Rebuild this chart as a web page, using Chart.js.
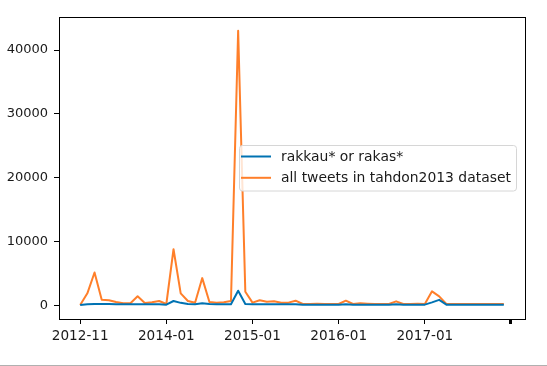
<!DOCTYPE html>
<html>
<head>
<meta charset="utf-8">
<script src="https://cdn.jsdelivr.net/npm/chart.js@4/dist/chart.umd.min.js"></script>
<style>
html,body{margin:0;padding:0;background:#fff;}
#wrap{position:relative;width:547px;height:366px;}
#line{position:absolute;left:0;top:365px;width:547px;height:1px;background:#b0b0b0;}
</style>
</head>
<body>
<div id="wrap"><canvas id="c" width="547" height="366"></canvas><div id="line"></div></div>
<script>
// ---- data ----
const seriesNames = ['rakkau* or rakas*', 'all tweets in tahdon2013 dataset'];
const tickLabels = ['2012-11', '2014-01', '2015-01', '2016-01', '2017-01', ''];
const rakkauValues = [
  50, 150, 200, 200, 180, 150, 150, 150, 150, 150, 150, 150,
  100, 670, 380, 200, 150, 300, 200, 150, 150, 150, 2280, 200,
  150, 150, 150, 150, 150, 150, 150, 100, 100, 100, 100, 100,
  100, 150, 100, 100, 100, 100, 100, 100, 150, 100, 100, 100,
  100, 450, 850, 100, 100, 100, 100, 100, 100, 100, 100, 100
];
const allValues = [
  50, 1870, 5140, 880, 780, 510, 310, 310, 1400, 360, 460, 670,
  200, 8780, 1870, 670, 410, 4260, 510, 410, 460, 670, 43030, 2120,
  410, 780, 560, 620, 410, 410, 720, 200, 200, 220, 200, 200,
  200, 720, 200, 300, 250, 200, 200, 200, 620, 200, 200, 250,
  200, 2180, 1400, 200, 200, 200, 200, 200, 200, 200, 200, 200
];
const yTicks = [0, 10000, 20000, 30000, 40000];
// ----------------

const colors = ['#0072b2', '#ff7f2a'];
const FONT = 'DejaVu Sans';
const TXT = '#1a1a1a';
const step = 12;

const toPts = arr => arr.map((v, i) => ({x: i, y: v}));
const n = allValues.length;
const xPad = (n - 1) * 0.05;
const yMaxData = Math.max(...allValues), yMinData = 0;
const yPad = (yMaxData - yMinData) * 0.05;

const framePlugin = {
  id: 'frame',
  afterDatasetsDraw(chart) {
    const {ctx, chartArea: a} = chart;
    ctx.save();
    ctx.strokeStyle = '#000';
    ctx.lineWidth = 1;
    ctx.strokeRect(Math.round(a.left) + 0.5, Math.round(a.top) + 0.5,
      Math.round(a.right - a.left), Math.round(a.bottom - a.top));
    // legend
    const bx = 239.5, by = 145.5, bw = 277, bh = 45.5, r = 3;
    ctx.beginPath();
    ctx.moveTo(bx + r, by);
    ctx.lineTo(bx + bw - r, by); ctx.arcTo(bx + bw, by, bx + bw, by + r, r);
    ctx.lineTo(bx + bw, by + bh - r); ctx.arcTo(bx + bw, by + bh, bx + bw - r, by + bh, r);
    ctx.lineTo(bx + r, by + bh); ctx.arcTo(bx, by + bh, bx, by + bh - r, r);
    ctx.lineTo(bx, by + r); ctx.arcTo(bx, by, bx + r, by, r);
    ctx.closePath();
    ctx.fillStyle = 'rgba(255,255,255,0.8)';
    ctx.fill();
    ctx.strokeStyle = '#d6d6d6';
    ctx.stroke();
    chart.data.datasets.forEach((ds, i) => {
      const ly = 156.5 + i * 21.3;
      ctx.strokeStyle = ds.borderColor;
      ctx.lineWidth = 2;
      ctx.beginPath(); ctx.moveTo(241, ly); ctx.lineTo(271, ly); ctx.stroke();
      ctx.fillStyle = TXT;
      ctx.font = '13.9px "' + FONT + '"';
      ctx.textBaseline = 'middle';
      ctx.textAlign = 'left';
      ctx.fillText(ds.label, 281, ly + 0.5);
    });
    ctx.restore();
  }
};

new Chart(document.getElementById('c'), {
  type: 'line',
  data: {
    datasets: [
      {label: seriesNames[0], data: toPts(rakkauValues), borderColor: colors[0], backgroundColor: colors[0]},
      {label: seriesNames[1], data: toPts(allValues), borderColor: colors[1], backgroundColor: colors[1]}
    ]
  },
  options: {
    responsive: false,
    animation: false,
    devicePixelRatio: 1,
    layout: {padding: {left: 0, right: 22, top: 17, bottom: 0}},
    elements: {
      line: {borderWidth: 2, tension: 0, borderJoinStyle: 'round', borderCapStyle: 'butt'},
      point: {radius: 0, hoverRadius: 0}
    },
    plugins: {legend: {display: false}, tooltip: {enabled: false}},
    scales: {
      x: {
        type: 'linear',
        min: -xPad, max: (n - 1) + xPad,
        afterBuildTicks: s => { s.ticks = tickLabels.map((t, i) => ({value: i * step})); },
        afterFit: s => { s.height = 47; },
        border: {display: false},
        grid: {
          drawOnChartArea: false, drawTicks: true, tickLength: 5, color: '#000',
          tickColor: '#000',
          tickWidth: ctx => (ctx.index === tickLabels.length - 1 ? 3 : 1)
        },
        ticks: {
          autoSkip: false, maxRotation: 0, padding: 4, color: TXT,
          font: {family: FONT, size: 13.6},
          callback: (v, i) => tickLabels[i]
        }
      },
      y: {
        type: 'linear',
        min: yMinData - yPad, max: yMaxData + yPad,
        afterBuildTicks: s => { s.ticks = yTicks.map(v => ({value: v})); },
        afterFit: s => { s.width = 59; },
        border: {display: false},
        grid: {drawOnChartArea: false, drawTicks: true, tickLength: 5, tickColor: '#000', tickWidth: 1},
        ticks: {
          padding: 6, color: TXT,
          font: {family: FONT, size: 13},
          callback: v => String(v)
        }
      }
    }
  },
  plugins: [framePlugin]
});
</script>
</body>
</html>
